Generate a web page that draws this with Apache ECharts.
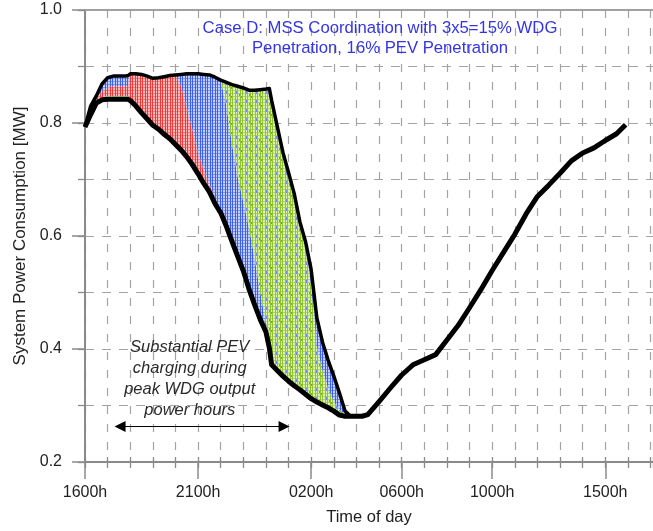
<!DOCTYPE html>
<html><head><meta charset="utf-8">
<script src="https://cdn.jsdelivr.net/npm/echarts@6/dist/echarts.min.js"></script>
<style>html,body{margin:0;padding:0;background:#fff}#c{width:653px;height:531px}</style>
</head><body><div id="c"></div>
<script>
// hours after 1600h
const hours = [0,0.25,0.5,0.75,1,1.25,1.5,1.75,1.9,2,2.25,2.5,2.75,3,3.25,3.5,3.75,4,4.25,4.5,4.75,5,5.25,5.5,5.75,6,6.25,6.5,6.75,7,7.25,7.5,7.75,8,8.15,8.25,8.5,8.75,9,9.25,9.5,9.75,10,10.25,10.5,10.75,11,11.25,11.5,11.75,12,12.25,12.5,13,13.5,14,14.5,15,15.5,16,16.5,17,17.5,18,18.5,19,19.5,20,20.5,21,21.5,22,22.5,23,23.5,23.9];
const baseLoad = [0.793,0.815,0.835,0.841,0.842,0.842,0.842,0.842,0.842,0.840,
 0.830,0.818,0.807,0.796,0.789,0.780,0.772,0.762,0.752,0.740,
 0.726,0.710,0.693,0.678,0.657,0.641,0.617,0.590,0.564,0.538,
 0.506,0.478,0.452,0.430,0.402,0.372,0.362,0.352,0.343,0.335,
 0.328,0.320,0.312,0.306,0.301,0.296,0.290,0.283,0.281,0.281,
 0.281,0.281,0.284,0.307,0.331,0.354,0.372,0.381,0.390,0.416,
 0.442,0.473,0.505,0.539,0.571,0.603,0.639,0.670,0.690,0.711,
 0.733,0.747,0.756,0.769,0.781,0.797];
// PEV charging layers (MW), stacked on baseLoad, first 50 time steps
const pevGreenEarly = [0,0.003,0.003,0.005,0.006,0.006,0.006,0.006,0.006,0,
 0,0,0,0,0,0,0,0,0,0, 0,0,0,0,0,0,0,0,0,0, 0,0,0,0,0,0,0,0,0,0, 0,0,0,0,0,0,0,0,0,0];
const pevRed = [0,0.006,0.005,0.010,0.015,0.017,0.017,0.017,0.017,0.047,
 0.057,0.068,0.076,0.083,0.091,0.102,0.112,0.123,0.113,0.087,
 0.062,0.037,0.024,0.014,0.008,0,0,0,0,0, 0,0,0,0,0,0,0,0,0,0, 0,0,0,0,0,0,0,0,0,0];
const pevBlue = [0,0.006,0.005,0.013,0.017,0.018,0.018,0.018,0.019,0,
 0,0,0,0,0,0,0,0,0.021,0.060,
 0.099,0.140,0.169,0.193,0.216,0.235,0.213,0.172,0.141,0.122,
 0.109,0.082,0.048,0.015,0.003,0,0,0,0,0, 0,0,0,0,0,0,0,0,0,0];
const pevGreen = [0,0,0,0,0,0,0,0,0,0, 0,0,0,0,0,0,0,0,0,0, 0,0,0,0,0,0,0.042,0.106,0.160,0.202,
 0.243,0.298,0.359,0.415,0.456,0.468,0.432,0.396,0.369,0.340,
 0.297,0.260,0.198,0.099,0.061,0.034,0.017,0.009,0.004,0];
const pevBlueLate = [0,0,0,0,0,0,0,0,0,0, 0,0,0,0,0,0,0,0,0,0, 0,0,0,0,0,0,0,0,0,0, 0,0,0,0,0,0,0,0,0,0,
 0,0.010,0.030,0.050,0.050,0.050,0.045,0.030,0.005,0];
const tickHours = [0,5,10,14,18,23];
const tickLabels = ['1600h','2100h','0200h','0600h','1000h','1500h'];
const titleLines = ['Case D: MSS Coordination with 3x5=15% WDG','Penetration, 16% PEV Penetration'];
const noteLines = ['Substantial PEV','charging during','peak WDG output','power hours'];
const noteAt = [4.63, 0.347];
const arrowFrom = 1.55, arrowTo = 8.8, arrowLevel = 0.263;

const FONT = '"Liberation Sans", Arial, sans-serif';
function hatch(bg, vline, hline, dot) {
  const W = 10, H = 9;
  const c = document.createElement('canvas'); c.width = W; c.height = H;
  const g = c.getContext('2d');
  g.fillStyle = bg; g.fillRect(0,0,W,H);
  g.fillStyle = hline; for (let y=0;y<H;y+=3) g.fillRect(0,y,W,1);
  g.fillStyle = vline; for (let x=0;x<W;x+=5) { g.fillRect(x,0,1,H); g.fillRect(x+2,0,1,H); }
  if (dot) { g.fillStyle = dot; g.fillRect(6,1,1,3); g.fillRect(1,6,1,2); g.fillRect(9,4,1,2); }
  return {image: c, repeat: 'repeat'};
}
const redPat = hatch('#f8bcbc','#ec3a3a','#f27c7c');
const bluePat = hatch('#c4d0fa','#3d60ec','#7a96f2');
const greenPat = hatch('#deefb8','#90c430','#b0d766','#6a8cf0');
const greenLight = hatch('#eaf5d4','#acd762','#c9e59a');

// cumulative band edges built from the arrays
const N = pevRed.length;
const layers = [pevGreenEarly, pevRed, pevBlue, pevGreen, pevBlueLate];
const fills = [greenLight, redPat, bluePat, greenPat, bluePat];
const edges = [baseLoad.slice(0, N)];
layers.forEach(L => { const prev = edges[edges.length-1]; edges.push(prev.map((v,i) => v + L[i])); });
const hP = hours.slice(0, N);

function bandSeries(k) {
  const lo = edges[k], hi = edges[k+1];
  return {
    type:'custom', z:2, silent:true, clip:true,
    data: hP.map((h,i) => [h, hi[i]]),
    encode:{x:0, y:1},
    renderItem: (params, api) => {
      if (params.dataIndex !== 0) return null;
      const top = hP.map((h,i) => api.coord([h, hi[i]]));
      const bot = hP.map((h,i) => api.coord([h, lo[i]])).reverse();
      return {type:'polygon', shape:{points: top.concat(bot)}, style:{fill: fills[k], stroke:null}};
    }
  };
}

const chart = echarts.init(document.getElementById('c'), null, {renderer:'canvas'});
const gridC = '#a3a3a3', axC = '#8a8a8a';
const xBase = {type:'value', min:0, max:25.11, gridIndex:0};
const yBase = {type:'value', min:0.2, max:1.0, gridIndex:0};
chart.setOption({
  animation:false,
  grid:{left:85, top:10, width:575, height:452},
  xAxis:[
    Object.assign({}, xBase, {position:'bottom',
      axisLine:{show:true, onZero:false, lineStyle:{color:axC, width:2}},
      axisTick:{show:true, customValues:tickHours, length:17, lineStyle:{color:axC, width:1.5}},
      axisLabel:{show:true, customValues:tickHours, margin:23, fontSize:16, color:'#222', fontFamily:FONT,
        formatter: v => { const i = tickHours.indexOf(v); return i >= 0 ? tickLabels[i] : ''; }},
      splitLine:{show:false},
      name:'Time of day', nameLocation:'middle', nameGap:47,
      nameTextStyle:{fontSize:16.5, color:'#222', fontFamily:FONT}}),
    Object.assign({}, xBase, {position:'bottom', interval:1,
      axisLine:{show:false}, axisLabel:{show:false},
      axisTick:{show:true, inside:true, length:5, lineStyle:{color:axC, width:1.3}},
      splitLine:{show:true, lineStyle:{color:gridC, width:1.2, type:[8,10]}}}),
    Object.assign({}, xBase, {position:'bottom', interval:1,
      axisLine:{show:false}, axisLabel:{show:false},
      axisTick:{show:true, inside:false, length:6, lineStyle:{color:axC, width:1.3}},
      splitLine:{show:false}}),
    Object.assign({}, xBase, {position:'top',
      axisLine:{show:true, onZero:false, lineStyle:{color:'#a0a0a0', width:2}},
      axisTick:{show:false}, axisLabel:{show:false}, splitLine:{show:false}})
  ],
  yAxis:[
    Object.assign({}, yBase, {position:'left', interval:0.2,
      axisLine:{show:true, onZero:false, lineStyle:{color:axC, width:2}},
      axisTick:{show:true, length:13, lineStyle:{color:axC, width:1.5}},
      axisLabel:{margin:23, fontSize:16, color:'#222', fontFamily:FONT, formatter: v => v.toFixed(1)},
      splitLine:{show:false},
      name:'System Power Consumption [MW]', nameLocation:'middle', nameGap:55,
      nameTextStyle:{fontSize:17, color:'#222', fontFamily:FONT}}),
    Object.assign({}, yBase, {position:'left', interval:0.1,
      axisLine:{show:false}, axisLabel:{show:false},
      axisTick:{show:true, length:7, lineStyle:{color:axC, width:1.3}},
      splitLine:{show:true, lineStyle:{color:gridC, width:1.2, type:[9,8]}}})
  ],
  series:[
    bandSeries(0), bandSeries(1), bandSeries(2), bandSeries(3), bandSeries(4),
    {name:'With PEV', type:'line', z:3, symbol:'none', silent:true,
     data: hP.map((h,i) => [h, edges[edges.length-1][i]]),
     lineStyle:{color:'#000', width:3.5, join:'round'}},
    {name:'Base load', type:'line', z:4, symbol:'none', silent:true,
     data: hours.map((h,i) => [h, baseLoad[i]]),
     lineStyle:{color:'#000', width:5, join:'round'},
     markLine:{silent:true, symbol:['triangle','triangle'], symbolSize:11, animation:false,
       label:{show:false}, lineStyle:{color:'#000', width:1.2, type:'solid'},
       emphasis:{disabled:true},
       data:[[{coord:[arrowFrom, arrowLevel]}, {coord:[arrowTo, arrowLevel]}]]}}
  ]
});
const np = chart.convertToPixel({xAxisIndex:0, yAxisIndex:0}, noteAt);
chart.setOption({
  graphic:[
    {type:'text', x:380, y:38.5, z:10, silent:true, style:{text: titleLines.join('\n'), align:'center', textAlign:'center',
      verticalAlign:'middle', textVerticalAlign:'middle', lineHeight:20.5, fill:'#3434e4',
      font:'16.7px ' + FONT}},
    {type:'text', x:np[0], y:np[1], z:10, silent:true, style:{text: noteLines.join('\n'), align:'center', textAlign:'center',
      verticalAlign:'middle', textVerticalAlign:'middle', lineHeight:20.7, fill:'#2a2a2a',
      font:'italic 16.5px ' + FONT}}
  ]
});
</script></body></html>
